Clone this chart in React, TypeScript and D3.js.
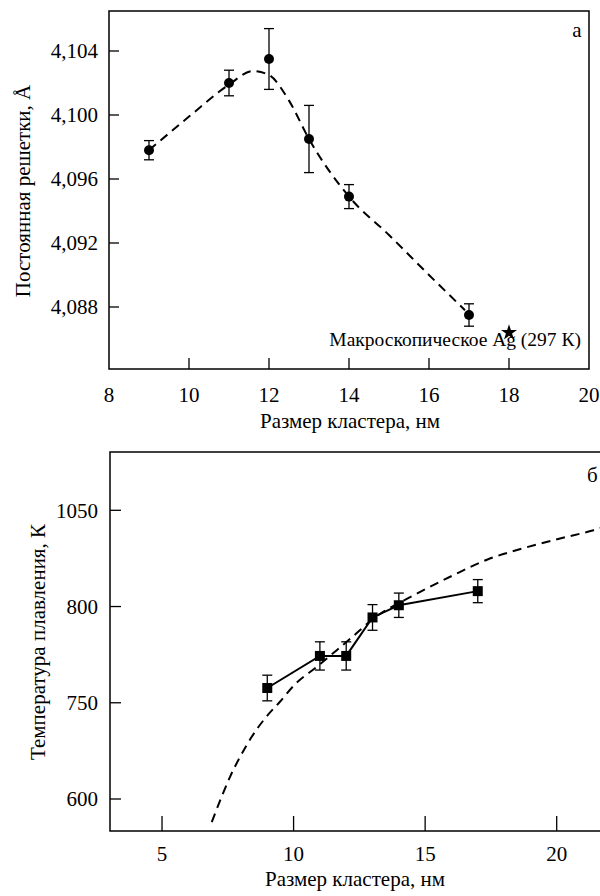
import { scaleLinear, line as d3_line, curveMonotoneX, symbol, symbolStar } from "d3";

// panel а: lattice constant vs cluster size
const sizeA = [9, 11, 12, 13, 14, 17];
const latticeA = [4.0978, 4.102, 4.1035, 4.0985, 4.0949, 4.0875];
const latticeErrA = [0.0006, 0.0008, 0.0019, 0.0021, 0.00075, 0.0007];
const fitSizeA = [9, 10, 11, 11.6, 12, 12.5, 13, 14, 15, 16, 16.9];
const fitLatticeA = [4.0978, 4.0999, 4.1019, 4.10275, 4.1025, 4.1009, 4.0985, 4.0949, 4.0925, 4.09, 4.0878];
const bulkSize = 18;
const bulkLattice = 4.0864;
const xTicksA = [8, 10, 12, 14, 16, 18, 20];
const yTicksA = [4.088, 4.092, 4.096, 4.1, 4.104];

// panel б: melting temperature vs cluster size
const sizeB = [9, 11, 12, 13, 14, 17];
const meltB = [773, 823, 823, 883, 902, 924];
const meltErrB = [20, 22, 22, 20, 19, 18];
const fitSizeB = [6.89, 7.27, 7.59, 7.97, 8.41, 8.92, 9.49, 10.06, 10.88, 11.64, 12.27, 12.97, 14.68, 16.08, 17.35, 18.74, 20.13, 21.4, 21.8];
const fitMeltB = [564, 604, 635, 666, 697, 726, 752, 779, 806, 832, 854, 879, 920, 949, 973, 991, 1006, 1019, 1024];
const xTicksB = [5, 10, 15, 20];
const yTicksB = [600, 750, 900, 1050];
const yTickLabelsB = ["600", "750", "800", "1050"];

const FONT = "Liberation Serif, Times New Roman, DejaVu Serif, serif";
const FS = 21;

export default function App() {
  // panel а frame
  const ax = scaleLinear().domain([8, 20]).range([109, 589]);
  const ay = scaleLinear().domain([4.088, 4.104]).range([307, 51]);
  const aTop = 11;
  const aBottom = 369;

  // panel б frame (runs off the right edge, as in the scan)
  const bx = scaleLinear().domain([3, 20]).range([109.4, 556.7]);
  const by = scaleLinear().domain([600, 1050]).range([799, 510.3]);
  const bTop = 452;
  const bBottom = 831;
  const bLeft = 110;
  const bRight = 640;

  const fitA = d3_line<number>()
    .x((d) => ax(d))
    .y((_, i) => ay(fitLatticeA[i]))
    .curve(curveMonotoneX)(fitSizeA);

  const fitB = d3_line<number>()
    .x((d) => bx(d))
    .y((_, i) => by(fitMeltB[i]))
    .curve(curveMonotoneX)(fitSizeB);

  const dataB = d3_line<number>()
    .x((d) => bx(d))
    .y((_, i) => by(meltB[i]))(sizeB);

  const star = symbol().type(symbolStar).size(80)();

  const fmtA = (v: number) => v.toFixed(3).replace(".", ",");

  return (
    <svg
      width={600}
      height={896}
      style={{ position: "absolute", left: 0, top: 0, background: "#fff", fontFamily: FONT }}
    >
      <rect width={600} height={896} fill="#fff" />

      {/* ---------- panel а ---------- */}
      <rect x={109} y={aTop} width={480} height={aBottom - aTop} fill="none" stroke="#000" strokeWidth={1.5} />
      {yTicksA.map((t) => (
        <g key={t}>
          <line x1={109} x2={119} y1={ay(t)} y2={ay(t)} stroke="#000" strokeWidth={1.3} />
          <text x={98} y={ay(t)} dy="0.35em" textAnchor="end" fontSize={FS}>
            {fmtA(t)}
          </text>
        </g>
      ))}
      {xTicksA.map((t) => (
        <g key={t}>
          {t > 8 && t < 20 && (
            <line x1={ax(t)} x2={ax(t)} y1={aBottom} y2={aBottom - 11} stroke="#000" strokeWidth={1.3} />
          )}
          <text x={ax(t)} y={395} dy="0.35em" textAnchor="middle" fontSize={FS}>
            {t}
          </text>
        </g>
      ))}
      <text x={350} y={421} dy="0.35em" textAnchor="middle" fontSize={FS}>
        Размер кластера, нм
      </text>
      <text transform="translate(23,191) rotate(-90)" dy="0.35em" textAnchor="middle" fontSize={FS}>
        Постоянная решетки, Å
      </text>
      <text x={577} y={37} textAnchor="middle" fontSize={FS}>
        а
      </text>

      <path d={fitA ?? ""} fill="none" stroke="#000" strokeWidth={2} strokeDasharray="9,6" />
      {sizeA.map((s, i) => {
        const cx = ax(s);
        const y1 = ay(latticeA[i] + latticeErrA[i]);
        const y2 = ay(latticeA[i] - latticeErrA[i]);
        return (
          <g key={s}>
            <line x1={cx} x2={cx} y1={y1} y2={y2} stroke="#000" strokeWidth={1.3} />
            <line x1={cx - 5} x2={cx + 5} y1={y1} y2={y1} stroke="#000" strokeWidth={1.3} />
            <line x1={cx - 5} x2={cx + 5} y1={y2} y2={y2} stroke="#000" strokeWidth={1.3} />
            <circle cx={cx} cy={ay(latticeA[i])} r={5} fill="#000" />
          </g>
        );
      })}
      <path d={star ?? ""} transform={`translate(${ax(bulkSize)},${ay(bulkLattice)})`} fill="#000" />
      <text x={581} y={346} textAnchor="end" fontSize={19.5}>
        Макроскопическое Ag (297 К)
      </text>

      {/* ---------- panel б ---------- */}
      <rect x={bLeft} y={bTop} width={bRight - bLeft} height={bBottom - bTop} fill="none" stroke="#000" strokeWidth={1.5} />
      {yTicksB.map((t, i) => (
        <g key={t}>
          <line x1={bLeft} x2={bLeft + 11} y1={by(t)} y2={by(t)} stroke="#000" strokeWidth={1.3} />
          <text x={98} y={by(t)} dy="0.35em" textAnchor="end" fontSize={FS}>
            {yTickLabelsB[i]}
          </text>
        </g>
      ))}
      {xTicksB.map((t) => (
        <g key={t}>
          <line x1={bx(t)} x2={bx(t)} y1={bBottom} y2={bBottom - 15} stroke="#000" strokeWidth={1.3} />
          <text x={bx(t)} y={854} dy="0.35em" textAnchor="middle" fontSize={FS}>
            {t}
          </text>
        </g>
      ))}
      <text x={355} y={879} dy="0.35em" textAnchor="middle" fontSize={FS}>
        Размер кластера, нм
      </text>
      <text transform="translate(38,642) rotate(-90)" dy="0.35em" textAnchor="middle" fontSize={FS}>
        Температура плавления, К
      </text>
      <text x={587} y={482} fontSize={FS}>
        б
      </text>

      <path d={fitB ?? ""} fill="none" stroke="#000" strokeWidth={2} strokeDasharray="9,6" />
      <path d={dataB ?? ""} fill="none" stroke="#000" strokeWidth={2} />
      {sizeB.map((s, i) => {
        const cx = bx(s);
        const y1 = by(meltB[i] + meltErrB[i]);
        const y2 = by(meltB[i] - meltErrB[i]);
        return (
          <g key={s}>
            <line x1={cx} x2={cx} y1={y1} y2={y2} stroke="#000" strokeWidth={1.3} />
            <line x1={cx - 5} x2={cx + 5} y1={y1} y2={y1} stroke="#000" strokeWidth={1.3} />
            <line x1={cx - 5} x2={cx + 5} y1={y2} y2={y2} stroke="#000" strokeWidth={1.3} />
            <rect x={cx - 5} y={by(meltB[i]) - 5} width={10} height={10} fill="#000" />
          </g>
        );
      })}
    </svg>
  );
}
